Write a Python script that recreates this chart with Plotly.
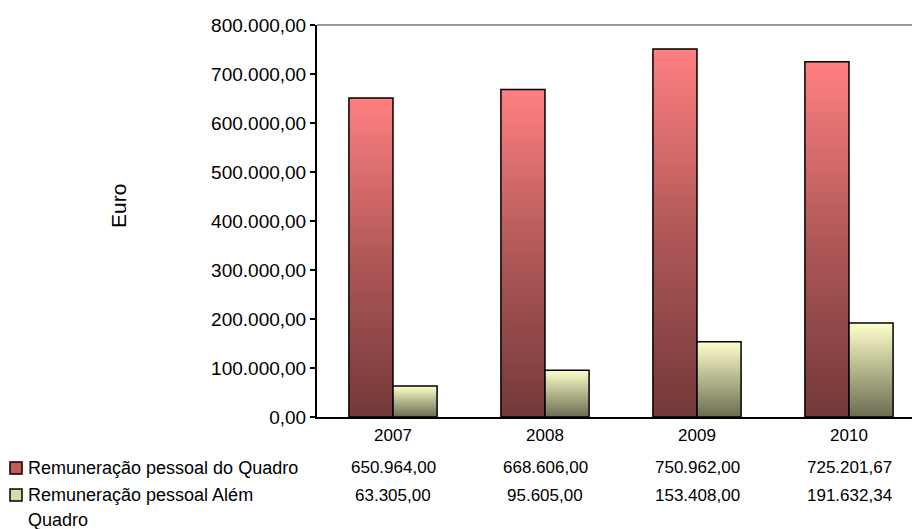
import plotly.graph_objects as go

# ---- data ----
years = ["2007", "2008", "2009", "2010"]
series_names = ["Remuneração pessoal do Quadro", "Remuneração pessoal Além Quadro"]
quadro = [650964.00, 668606.00, 750962.00, 725201.67]
alem_quadro = [63305.00, 95605.00, 153408.00, 191632.34]
y_ticks = [0, 100000, 200000, 300000, 400000, 500000, 600000, 700000, 800000]

# ---- styling ----
W, H = 912, 529
L, R, T, B = 317, 0, 25, 112
PW, PH = W - L - R, H - T - B
FONT = "Liberation Sans, Arial, sans-serif"
BAR_W = 0.29

red_scale = [[0, "#733838"], [0.5, "#b05858"], [1, "#ff8080"]]
green_scale = [[0, "#6c6c52"], [0.5, "#b4b48c"], [1, "#ffffcc"]]
marker_fill = ["#c85a5a", "#d8d8a8"]


def fmt_pt(v):
    s = f"{v:,.2f}"
    return s.replace(",", "X").replace(".", ",").replace("X", ".")


def px_x(p):
    return (p - L) / PW


def px_y(p):
    return (H - B - p) / PH


fig = go.Figure()

for si, (vals, scale) in enumerate([(quadro, red_scale), (alem_quadro, green_scale)]):
    for i, v in enumerate(vals):
        x0 = i - BAR_W if si == 0 else i
        x1 = x0 + BAR_W
        fig.add_trace(go.Scatter(
            x=[x0, x0, x1, x1, x0],
            y=[0, v, v, 0, 0],
            mode="lines",
            fill="toself",
            fillgradient=dict(type="vertical", colorscale=scale),
            line=dict(color="black", width=1.5),
            showlegend=False,
            hoverinfo="skip",
        ))

x_max = -0.5 + 4 * PW / 608.0

fig.update_layout(
    width=W, height=H,
    margin=dict(l=L, r=R, t=T, b=B),
    paper_bgcolor="white", plot_bgcolor="white",
    separators=",.",
    font=dict(family=FONT, size=17, color="black"),
    showlegend=False,
    xaxis=dict(
        range=[-0.5, x_max],
        tickvals=list(range(len(years))),
        ticktext=years,
        showgrid=False, zeroline=False,
        showline=True, linecolor="black", linewidth=2,
        ticks="", ticklabelstandoff=2,
        tickfont=dict(size=17),
        fixedrange=True,
    ),
    yaxis=dict(
        range=[0, 800000],
        tickvals=y_ticks,
        tickformat=",.2f",
        showgrid=False, zeroline=False,
        showline=True, linecolor="black", linewidth=2,
        ticks="outside", ticklen=5, tickwidth=2, tickcolor="black",
        tickfont=dict(size=19),
        fixedrange=True,
    ),
)

# top border of plot area
fig.add_shape(type="line", xref="paper", yref="paper", x0=0, x1=1, y0=1, y1=1,
              line=dict(color="#999999", width=2))

# y axis title
fig.add_annotation(text="Euro", xref="paper", yref="paper", x=px_x(118), y=px_y(206),
                   textangle=-90, showarrow=False, font=dict(size=21),
                   xanchor="center", yanchor="middle")

# data table
row_y = [467, 495]
for si, vals in enumerate([quadro, alem_quadro]):
    for i, v in enumerate(vals):
        fig.add_annotation(text=fmt_pt(v), xref="x", yref="paper", x=i, y=px_y(row_y[si]),
                           showarrow=False, xanchor="center", yanchor="middle",
                           font=dict(size=17))

# legend keys and labels
legend_lines = [[series_names[0]], ["Remuneração pessoal Além", "Quadro"]]
key_y = [468, 495]
for si, lines in enumerate(legend_lines):
    cy = key_y[si]
    fig.add_shape(type="rect", xref="paper", yref="paper",
                  x0=px_x(10), x1=px_x(22), y0=px_y(cy + 6), y1=px_y(cy - 6),
                  fillcolor=marker_fill[si], line=dict(color="black", width=1.5))
    for li, txt in enumerate(lines):
        fig.add_annotation(text=txt, xref="paper", yref="paper",
                           x=px_x(26), y=px_y(cy + li * 25),
                           showarrow=False, xanchor="left", yanchor="middle",
                           font=dict(size=18))

fig.write_html("out.html", config={"displayModeBar": False},
               post_script="document.body.style.margin='0px';")
